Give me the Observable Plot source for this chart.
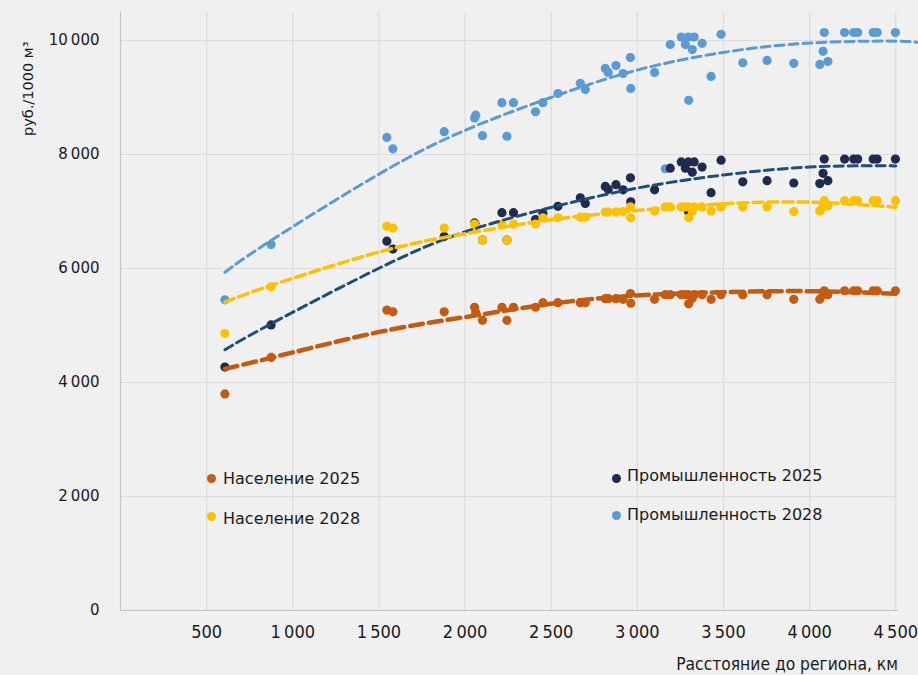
<!DOCTYPE html>
<html><head><meta charset="utf-8">
<script src="https://cdn.jsdelivr.net/npm/d3@7"></script>
<script src="https://cdn.jsdelivr.net/npm/@observablehq/plot@0.6"></script>
<style>
body{margin:0;background:#f0f0f0;}
#wrap{position:relative;width:918px;height:675px;overflow:hidden;}
.dotk{position:absolute;width:9px;height:9px;border-radius:50%}
.legt{position:absolute;font-family:"DejaVu Sans",sans-serif;color:#1a1a1a;white-space:nowrap}
.lab{position:absolute;white-space:nowrap;color:#1a1a1a;font-size:15px;line-height:18px}
</style></head><body><div id="wrap"></div><script>
// distance to region, km
const distance = [606, 874, 1546, 1581, 1879, 2055, 2062, 2101, 2214, 2243, 2281, 2409, 2452, 2539, 2669, 2698, 2814, 2831, 2876, 2917, 2960, 2962, 3100, 3162, 3191, 3255, 3279, 3296, 3298, 3319, 3330, 3376, 3428, 3486, 3612, 3753, 3908, 4059, 4078, 4085, 4106, 4203, 4256, 4279, 4369, 4392, 4498];
const pop2025 = [3800, 4440, 5270, 5240, 5240, 5320, 5230, 5090, 5320, 5090, 5320, 5320, 5400, 5400, 5400, 5400, 5470, 5470, 5470, 5460, 5560, 5390, 5460, 5540, 5540, 5540, 5540, 5540, 5380, 5480, 5540, 5540, 5460, 5540, 5540, 5540, 5460, 5460, 5540, 5610, 5540, 5610, 5610, 5610, 5610, 5610, 5610];
const pop2028 = [4860, 5680, 6740, 6710, 6710, 6780, 6740, 6500, 6780, 6500, 6780, 6780, 6890, 6890, 6900, 6900, 6990, 6990, 6990, 7000, 7080, 6890, 7010, 7080, 7080, 7080, 7080, 7080, 6890, 7010, 7080, 7080, 7010, 7080, 7080, 7080, 7000, 7010, 7080, 7190, 7100, 7190, 7190, 7190, 7190, 7190, 7190];
const ind2025 = [4270, 5010, 6480, 6340, 6560, 6800, 6760, 6500, 6980, 6500, 6980, 6860, 6970, 7090, 7240, 7140, 7440, 7390, 7470, 7380, 7590, 7170, 7380, null, 7760, 7870, 7760, 7870, 6990, 7690, 7870, 7780, 7330, 7900, 7520, 7540, 7500, 7490, 7670, 7920, 7540, 7920, 7920, 7920, 7920, 7920, 7920];
const ind2028 = [5450, 6420, 8300, 8100, 8400, 8640, 8690, 8330, 8910, 8320, 8910, 8750, 8910, 9070, 9250, 9140, 9510, 9440, 9560, 9420, 9700, 9160, 9440, 7750, 9930, 10060, 9930, 10060, 8950, 9840, 10060, 9950, 9370, 10110, 9610, 9650, 9600, 9580, 9810, 10140, 9630, 10140, 10140, 10140, 10140, 10140, 10140];

// trend lines
const trendX = [606, 874, 1497, 1997, 2498, 2998, 3498, 3999, 4500];
const trendPop2025 = [4240, 4433, 4883, 5146, 5380, 5526, 5585, 5602, 5556];
const trendPop2028 = [5409, 5702, 6286, 6608, 6854, 7018, 7135, 7164, 7076];
const trendInd2025 = [4574, 5030, 6000, 6640, 7070, 7410, 7640, 7780, 7800];
const trendXInd2028 = [606, 874, 1497, 1997, 2498, 2998, 3498, 3999, 4500, 4650];
const trendInd2028 = [5935, 6491, 7650, 8420, 9000, 9480, 9790, 9955, 9988, 9955];

const xTicks = [500, 1000, 1500, 2000, 2500, 3000, 3500, 4000, 4500];
const yTicks = [0, 2000, 4000, 6000, 8000, 10000];

const seriesNames = ["Население 2025", "Население 2028", "Промышленность 2025", "Промышленность 2028"];
const dotColors = ["#c55a11", "#ffc000", "#1f2a50", "#5b9bd5"];
const lineColors = ["#c55a11", "#ffc000", "#1f4e79", "#5b9bd5"];

const pts = (vals) => distance.map((d, i) => ({x: d, y: vals[i]})).filter(p => p.y != null);
const tr = (xs, vals) => xs.map((d, i) => ({x: d, y: vals[i]}));
const fmt = d => d3.format(",")(d).replace(/,/g, "\u2009");
const narrow = "'DejaVu Sans Condensed', 'Liberation Sans Narrow', 'Roboto', sans-serif";

const chart = Plot.plot({
  width: 918, height: 675,
  marginLeft: 120, marginRight: 0, marginTop: 11.5, marginBottom: 65,
  style: {background: "#f0f0f0", fontFamily: "'DejaVu Sans', sans-serif", fontSize: "15px", color: "#1a1a1a", overflow: "visible"},
  x: {domain: [0, 4632], label: null},
  y: {domain: [0, 10500], label: null},
  marks: [
    Plot.ruleX(xTicks, {y1: 0, y2: 10500, stroke: "#dcdcdc", strokeWidth: 1.2}),
    Plot.ruleY(yTicks.filter(d => d > 0), {x1: 0, x2: 4500, stroke: "#dcdcdc", strokeWidth: 1.2}),
    Plot.ruleX([0], {y1: 0, y2: 10500, stroke: "#c4c4c4", strokeWidth: 1.2}),
    Plot.ruleY([0], {x1: 0, x2: 4515, stroke: "#c4c4c4", strokeWidth: 1.2}),
    Plot.axisX(xTicks, {tickSize: 0, tickPadding: 15, tickFormat: fmt, fontFamily: narrow, fontSize: 18, label: null}),
    Plot.axisY(yTicks, {tickSize: 0, tickPadding: 21, tickFormat: fmt, fontFamily: "'DejaVu Sans', sans-serif", fontSize: 15, label: null}),
    Plot.dot(pts(ind2028), {x: "x", y: "y", r: 4.6, fill: dotColors[3]}),
    Plot.dot(pts(ind2025), {x: "x", y: "y", r: 4.6, fill: dotColors[2]}),
    Plot.dot(pts(pop2028), {x: "x", y: "y", r: 4.6, fill: dotColors[1]}),
    Plot.dot(pts(pop2025), {x: "x", y: "y", r: 4.6, fill: dotColors[0]}),
    Plot.line(tr(trendXInd2028, trendInd2028), {x: "x", y: "y", curve: "natural", stroke: lineColors[3], strokeWidth: 3, strokeDasharray: "9,5"}),
    Plot.line(tr(trendX, trendInd2025), {x: "x", y: "y", curve: "natural", stroke: lineColors[2], strokeWidth: 3, strokeDasharray: "9,5"}),
    Plot.line(tr(trendX, trendPop2028), {x: "x", y: "y", curve: "natural", stroke: lineColors[1], strokeWidth: 3.5, strokeDasharray: "10,5"}),
    Plot.line(tr(trendX, trendPop2025), {x: "x", y: "y", curve: "natural", stroke: lineColors[0], strokeWidth: 4.5, strokeDasharray: "13,6"})
  ]
});
const wrap = document.getElementById("wrap");
wrap.appendChild(chart);

// legend: [dot cx, dot cy, text left, text cap-centre y, font size]
const legLayout = [[211, 478, 223, 478.5, 16], [211, 516, 223, 518.5, 16], [616, 478, 627, 475.3, 16], [616, 515.7, 627, 514, 16]];
seriesNames.forEach((n, i) => {
  const [cx, cy, tx, ty, fs] = legLayout[i];
  const d = document.createElement("div");
  d.className = "dotk";
  d.style.left = (cx - 4.5) + "px"; d.style.top = (cy - 4.5) + "px";
  d.style.background = dotColors[i];
  wrap.appendChild(d);
  const t = document.createElement("div");
  t.className = "legt";
  t.style.fontSize = fs + "px";
  t.style.lineHeight = (fs * 1.2) + "px";
  t.style.left = tx + "px";
  t.style.top = (ty - 0.581 * fs) + "px";
  t.textContent = n;
  wrap.appendChild(t);
});
// axis titles
const yl = document.createElement("div");
yl.className = "lab";
yl.style.fontFamily = "'DejaVu Sans', sans-serif";
yl.style.fontSize = "14.5px";
yl.style.left = "19px"; yl.style.top = "136px";
yl.style.transformOrigin = "left top"; yl.style.transform = "rotate(-90deg)";
yl.textContent = "руб./1000 м³";
wrap.appendChild(yl);
const xl = document.createElement("div");
xl.className = "lab";
xl.style.fontFamily = narrow;
xl.style.fontSize = "17.3px";
xl.style.right = "20px"; xl.style.top = "655px";
xl.textContent = "Расстояние до региона, км";
wrap.appendChild(xl);
</script></body></html>
